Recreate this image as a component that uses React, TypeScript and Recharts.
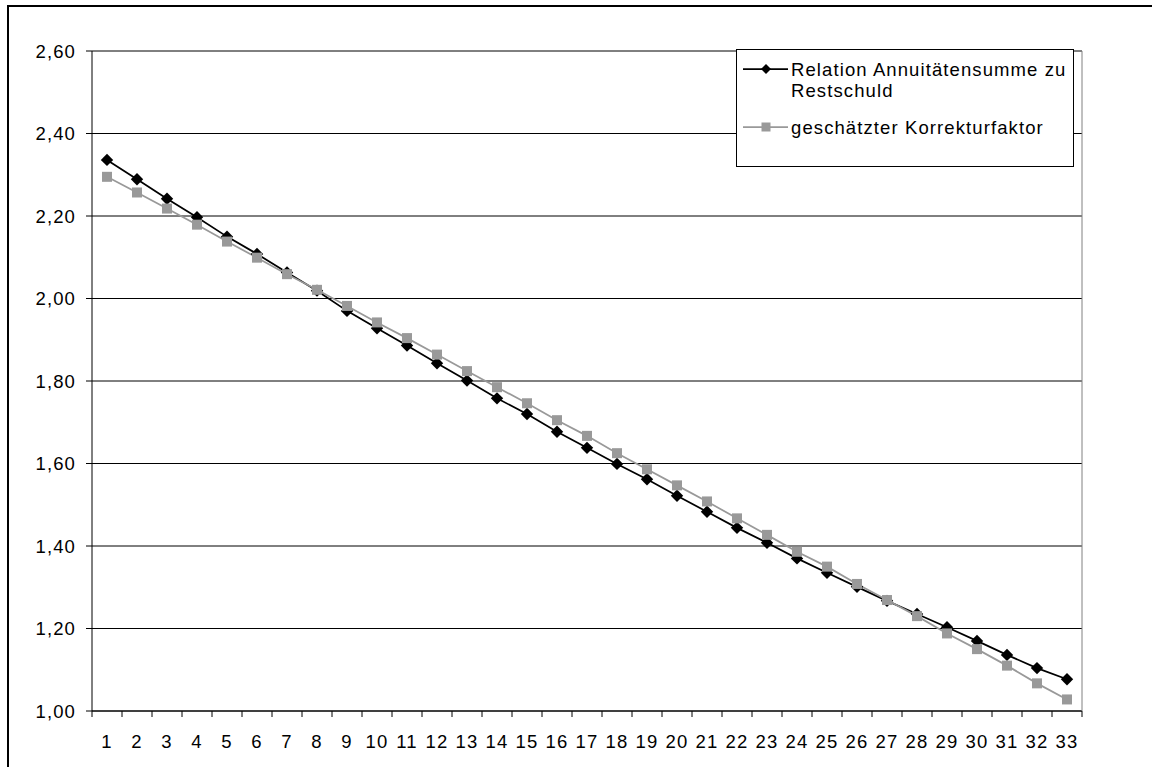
import React from 'react';
import { LineChart, Line, XAxis, YAxis, CartesianGrid, Legend, ReferenceLine } from 'recharts';

// Laufzeit in Jahren (Kategorien der x-Achse)
const jahre = [
  '1', '2', '3', '4', '5', '6', '7', '8', '9', '10', '11',
  '12', '13', '14', '15', '16', '17', '18', '19', '20', '21', '22',
  '23', '24', '25', '26', '27', '28', '29', '30', '31', '32', '33',
];

// Relation Annuitätensumme zu Restschuld (schwarz, Raute)
const relation = [
  2.336, 2.289, 2.242, 2.197, 2.150, 2.108, 2.063, 2.019, 1.970, 1.928, 1.886,
  1.843, 1.801, 1.758, 1.720, 1.677, 1.638, 1.599, 1.562, 1.522, 1.483, 1.444,
  1.408, 1.370, 1.335, 1.301, 1.267, 1.235, 1.203, 1.170, 1.136, 1.104, 1.077,
];

// geschätzter Korrekturfaktor (grau, Quadrat)
const korrektur = [
  2.295, 2.257, 2.218, 2.179, 2.138, 2.099, 2.059, 2.021, 1.982, 1.942, 1.904,
  1.864, 1.824, 1.785, 1.746, 1.705, 1.667, 1.625, 1.586, 1.547, 1.508, 1.467,
  1.427, 1.386, 1.350, 1.308, 1.269, 1.230, 1.188, 1.150, 1.110, 1.067, 1.028,
];

const yTicks = [1.0, 1.2, 1.4, 1.6, 1.8, 2.0, 2.2, 2.4, 2.6];

const legendLines = [
  { key: 'relation', lines: ['Relation Annuitätensumme zu', 'Restschuld'], color: '#000000', shape: 'diamond' },
  { key: 'korrektur', lines: ['geschätzter Korrekturfaktor'], color: '#999999', shape: 'square' },
];

const data = jahre.map((jahr, i) => ({ jahr, relation: relation[i], korrektur: korrektur[i] }));

const FONT = '"Liberation Sans", Arial, sans-serif';
const SPACING = 1.1;
const BAND = 30;

const fmt = (v: number) => v.toFixed(2).replace('.', ',');

const Diamond = (props: any) => {
  const { cx, cy, index } = props;
  if (cx == null || cy == null) return <g key={`d-${index}`} />;
  const r = 6.2;
  return (
    <path
      key={`d-${index}`}
      d={`M${cx},${cy - r}L${cx + r},${cy}L${cx},${cy + r}L${cx - r},${cy}Z`}
      fill="#000"
    />
  );
};

const Square = (props: any) => {
  const { cx, cy, index } = props;
  if (cx == null || cy == null) return <g key={`s-${index}`} />;
  return <rect key={`s-${index}`} x={cx - 5} y={cy - 5} width={10} height={10} fill="#999999" />;
};

const XTick = (props: any) => {
  const { x, y, payload } = props;
  const isLast = payload.value === jahre[jahre.length - 1];
  return (
    <g>
      <line x1={x - BAND / 2} y1={y} x2={x - BAND / 2} y2={y + 6} stroke="#000" />
      {isLast && <line x1={x + BAND / 2} y1={y} x2={x + BAND / 2} y2={y + 6} stroke="#000" />}
      <text x={x} y={y + 37} textAnchor="middle" fill="#000" fontSize={18.5} fontFamily={FONT} letterSpacing={SPACING}>
        {payload.value}
      </text>
    </g>
  );
};

const renderLegend = () => (
  <svg width={338} height={118} style={{ display: 'block' }}>
    <rect x={0.5} y={0.5} width={337} height={117} fill="#fff" stroke="#000" />
    {legendLines.map((item, i) => {
      const cy = i === 0 ? 20 : 78;
      return (
        <g key={item.key}>
          <line x1={7} y1={cy} x2={52} y2={cy} stroke={item.color} strokeWidth={1.75} />
          {item.shape === 'diamond' ? (
            <path d={`M30,${cy - 5}L35,${cy}L30,${cy + 5}L25,${cy}Z`} fill={item.color} />
          ) : (
            <rect x={25.5} y={cy - 4.5} width={9} height={9} fill={item.color} />
          )}
          {item.lines.map((t, j) => (
            <text
              key={t}
              x={55}
              y={cy + 7 + j * 21}
              fill="#000"
              fontSize={18.5}
              fontFamily={FONT}
              letterSpacing={SPACING}
            >
              {t}
            </text>
          ))}
        </g>
      );
    })}
  </svg>
);

export default function App() {
  return (
    <div
      style={{
        position: 'absolute',
        left: 0,
        top: 0,
        width: 1152,
        height: 767,
        overflow: 'hidden',
        background: '#fff',
      }}
    >
      <div
        style={{
          position: 'absolute',
          left: 7,
          top: 5,
          width: 1300,
          height: 900,
          borderTop: '2px solid #000',
          borderLeft: '2px solid #000',
        }}
      />
      <div style={{ position: 'absolute', left: 0, top: 0 }}>
        <LineChart width={1152} height={767} data={data} margin={{ top: 51, right: 0, bottom: 0, left: 0 }}>
          <CartesianGrid horizontal vertical={false} stroke="#000" strokeWidth={1} />
          <XAxis
            dataKey="jahr"
            interval={0}
            height={56}
            padding={{ left: BAND / 2, right: BAND / 2 }}
            axisLine={{ stroke: '#000' }}
            tickLine={false}
            tickSize={0}
            tickMargin={0}
            tick={<XTick />}
          />
          <YAxis
            type="number"
            domain={[1, 2.6]}
            ticks={yTicks}
            width={92}
            tickFormatter={fmt}
            axisLine={{ stroke: '#000' }}
            tickLine={{ stroke: '#000' }}
            tickSize={6}
            tickMargin={10}
            tick={{ fill: '#000', fontSize: 18.5, fontFamily: FONT, letterSpacing: SPACING }}
          />
          <YAxis
            yAxisId="rand"
            orientation="right"
            type="number"
            domain={[1, 2.6]}
            width={70}
            tick={false}
            tickLine={false}
            axisLine={{ stroke: '#808080' }}
          />
          <ReferenceLine y={2.6} stroke="#808080" />
          <Legend
            layout="vertical"
            align="center"
            verticalAlign="middle"
            content={renderLegend}
            wrapperStyle={{ left: 736, top: 49, width: 338, height: 118 }}
          />
          <Line
            type="linear"
            dataKey="relation"
            name="Relation Annuitätensumme zu Restschuld"
            stroke="#000"
            strokeWidth={1.75}
            dot={Diamond}
            activeDot={false}
            isAnimationActive={false}
          />
          <Line
            type="linear"
            dataKey="korrektur"
            name="geschätzter Korrekturfaktor"
            stroke="#999999"
            strokeWidth={1.75}
            dot={Square}
            activeDot={false}
            isAnimationActive={false}
          />
        </LineChart>
      </div>
    </div>
  );
}
